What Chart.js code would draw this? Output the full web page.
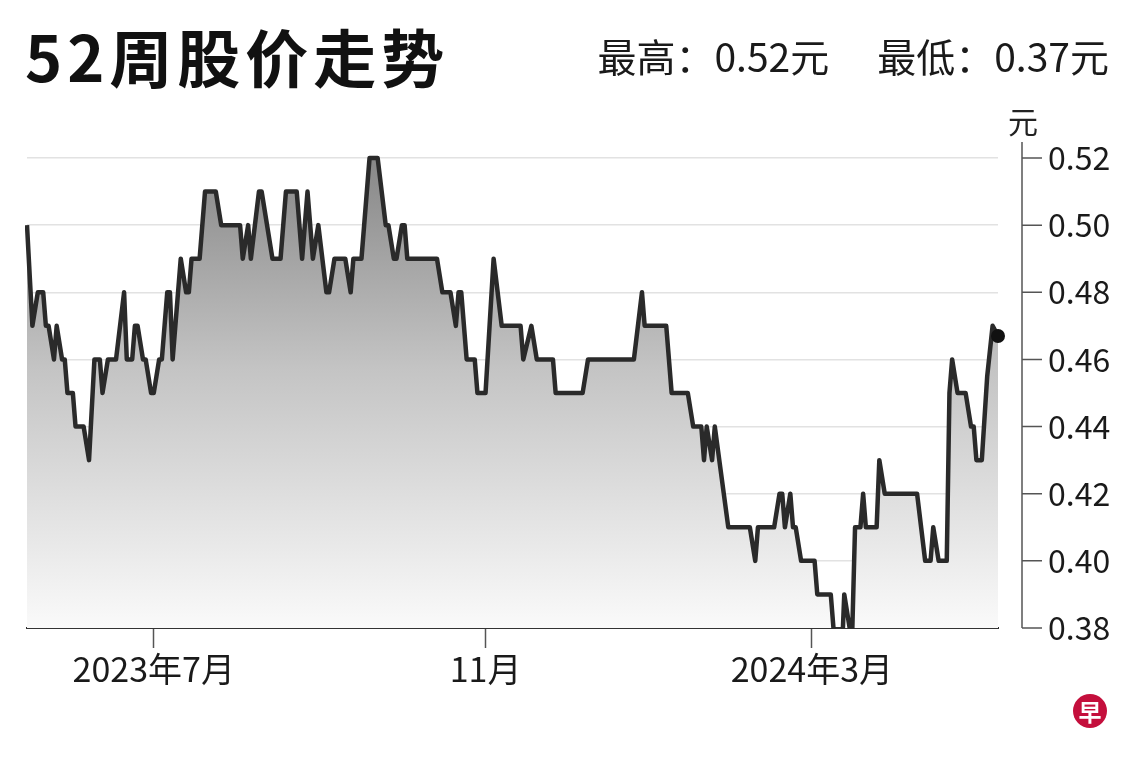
<!DOCTYPE html>
<html>
<head>
<meta charset="utf-8">
<script src="https://cdn.jsdelivr.net/npm/chart.js@4.4.1/dist/chart.umd.min.js"></script>
<style>
  html, body { margin: 0; padding: 0; background: #fff; }
  #wrap { position: relative; width: 1140px; height: 760px; font-family: "Noto Sans CJK SC", sans-serif; color: #111; }
  #title { position: absolute; left: 25px; top: 23px; font-size: 63px; font-weight: 700; line-height: 1; letter-spacing: 5px; }
  #sub { position: absolute; right: 31px; top: 36px; font-size: 39px; line-height: 1; color: #1a1a1a; }
  #sub span + span { margin-left: 48px; }
  #logo { position: absolute; left: 1073px; top: 694px; width: 34px; height: 34px; border-radius: 50%;
          background: #c40f3c; color: #fff; font-size: 23px; font-weight: 700; text-align: center; line-height: 34px; }
  canvas { position: absolute; left: 0; top: 0; }
</style>
</head>
<body>
<div id="wrap">
  <canvas id="priceChart" width="1140" height="760"></canvas>
  <div id="title">52周股价走势</div>
  <div id="sub"><span>最高：0.52元</span><span>最低：0.37元</span></div>
  <div id="logo">早</div>
</div>
<script>
// closing prices
const startDate = '2023-05-15';
const dates = [
  '2023-05-15', '2023-05-17', '2023-05-19', '2023-05-21', '2023-05-22', '2023-05-23', '2023-05-25', '2023-05-26',
  '2023-05-28', '2023-05-29', '2023-05-30', '2023-06-01', '2023-06-02', '2023-06-05', '2023-06-07', '2023-06-09',
  '2023-06-11', '2023-06-12', '2023-06-14', '2023-06-17', '2023-06-20', '2023-06-21', '2023-06-23', '2023-06-24',
  '2023-06-25', '2023-06-27', '2023-06-28', '2023-06-30', '2023-07-01', '2023-07-03', '2023-07-04', '2023-07-06',
  '2023-07-07', '2023-07-08', '2023-07-11', '2023-07-13', '2023-07-14', '2023-07-15', '2023-07-18', '2023-07-20',
  '2023-07-24', '2023-07-26', '2023-08-02', '2023-08-03', '2023-08-05', '2023-08-06', '2023-08-09', '2023-08-10',
  '2023-08-14', '2023-08-17', '2023-08-19', '2023-08-23', '2023-08-25', '2023-08-27', '2023-08-29', '2023-08-31',
  '2023-09-03', '2023-09-04', '2023-09-06', '2023-09-10', '2023-09-12', '2023-09-13', '2023-09-16', '2023-09-19',
  '2023-09-22', '2023-09-25', '2023-09-26', '2023-09-28', '2023-09-29', '2023-10-01', '2023-10-02', '2023-10-03',
  '2023-10-14', '2023-10-16', '2023-10-19', '2023-10-21', '2023-10-22', '2023-10-23', '2023-10-25', '2023-10-28',
  '2023-10-29', '2023-11-01', '2023-11-04', '2023-11-07', '2023-11-14', '2023-11-15', '2023-11-18', '2023-11-20',
  '2023-11-26', '2023-11-27', '2023-12-07', '2023-12-09', '2023-12-26', '2023-12-29', '2023-12-30', '2024-01-07',
  '2024-01-09', '2024-01-15', '2024-01-17', '2024-01-20', '2024-01-21', '2024-01-22', '2024-01-24', '2024-01-25',
  '2024-01-30', '2024-02-07', '2024-02-09', '2024-02-10', '2024-02-16', '2024-02-18', '2024-02-19', '2024-02-20',
  '2024-02-22', '2024-02-23', '2024-02-24', '2024-02-26', '2024-03-02', '2024-03-03', '2024-03-08', '2024-03-10',
  '2024-03-12', '2024-03-13', '2024-03-15', '2024-03-16', '2024-03-17', '2024-03-19', '2024-03-20', '2024-03-21',
  '2024-03-25', '2024-03-26', '2024-03-28', '2024-04-09', '2024-04-12', '2024-04-14', '2024-04-15', '2024-04-17',
  '2024-04-20', '2024-04-21', '2024-04-22', '2024-04-24', '2024-04-27', '2024-04-29', '2024-04-30', '2024-05-01',
  '2024-05-03', '2024-05-05', '2024-05-07', '2024-05-09'
];
const prices = [
  0.50, 0.47, 0.48, 0.48, 0.47, 0.47, 0.46, 0.47,
  0.46, 0.46, 0.45, 0.45, 0.44, 0.44, 0.43, 0.46,
  0.46, 0.45, 0.46, 0.46, 0.48, 0.46, 0.46, 0.47,
  0.47, 0.46, 0.46, 0.45, 0.45, 0.46, 0.46, 0.48,
  0.48, 0.46, 0.49, 0.48, 0.48, 0.49, 0.49, 0.51,
  0.51, 0.50, 0.50, 0.49, 0.50, 0.49, 0.51, 0.51,
  0.49, 0.49, 0.51, 0.51, 0.49, 0.51, 0.49, 0.50,
  0.48, 0.48, 0.49, 0.49, 0.48, 0.49, 0.49, 0.52,
  0.52, 0.50, 0.50, 0.49, 0.49, 0.50, 0.50, 0.49,
  0.49, 0.48, 0.48, 0.47, 0.48, 0.48, 0.46, 0.46,
  0.45, 0.45, 0.49, 0.47, 0.47, 0.46, 0.47, 0.46,
  0.46, 0.45, 0.45, 0.46, 0.46, 0.48, 0.47, 0.47,
  0.45, 0.45, 0.44, 0.44, 0.43, 0.44, 0.43, 0.44,
  0.41, 0.41, 0.40, 0.41, 0.41, 0.42, 0.42, 0.41,
  0.42, 0.41, 0.41, 0.40, 0.40, 0.39, 0.39, 0.37,
  0.37, 0.39, 0.38, 0.38, 0.41, 0.41, 0.42, 0.41,
  0.41, 0.43, 0.42, 0.42, 0.40, 0.40, 0.41, 0.40,
  0.40, 0.45, 0.46, 0.45, 0.45, 0.44, 0.44, 0.43,
  0.43, 0.455, 0.47, 0.467
];
const tickDates = ['2023-07-01', '2023-11-01', '2024-03-01'];
const tickLabels = ['2023年7月', '11月', '2024年3月'];
const yTicks = [0.38, 0.40, 0.42, 0.44, 0.46, 0.48, 0.50, 0.52];
const unitLabel = '元';

const dayNum = s => (Date.parse(s) - Date.parse(startDate)) / 86400000;
const tickDays = tickDates.map(dayNum);
const points = dates.map((d, i) => ({ x: dayNum(d), y: prices[i] }));
const lastIdx = points.length - 1;

const FONT = '"Noto Sans CJK SC", sans-serif';

// right axis line sits a little away from the plot, with short ticks and the unit on top
const rightAxis = {
  id: 'rightAxis',
  afterDraw(chart) {
    const { ctx, chartArea } = chart;
    const y = chart.scales.y;
    const ax = chartArea.right + 24;
    ctx.save();
    ctx.strokeStyle = '#555';
    ctx.lineWidth = 1.5;
    ctx.beginPath();
    ctx.moveTo(ax, chartArea.top - 16);
    ctx.lineTo(ax, chartArea.bottom);
    yTicks.forEach(v => {
      const py = y.getPixelForValue(v);
      ctx.moveTo(ax, py);
      ctx.lineTo(ax + 20, py);
    });
    ctx.stroke();
    ctx.fillStyle = '#222';
    ctx.font = '30px ' + FONT;
    ctx.textAlign = 'center';
    ctx.textBaseline = 'middle';
    ctx.fillText(unitLabel, ax + 1, chartArea.top - 36);
    ctx.restore();
  }
};

new Chart(document.getElementById('priceChart'), {
  type: 'line',
  data: {
    datasets: [{
      data: points,
      borderColor: '#2a2a2a',
      borderWidth: 4.5,
      borderJoinStyle: 'round',
      tension: 0,
      clip: { left: 2, top: 4, right: 12, bottom: 1 },
      fill: 'start',
      backgroundColor: (c) => {
        const area = c.chart.chartArea;
        if (!area) return 'rgba(0,0,0,0)';
        const g = c.chart.ctx.createLinearGradient(0, area.top, 0, area.bottom);
        g.addColorStop(0, '#878787');
        g.addColorStop(0.45, '#c4c4c4');
        g.addColorStop(1, '#fafafa');
        return g;
      },
      pointRadius: c => c.dataIndex === lastIdx ? 7 : 0,
      pointBackgroundColor: '#111',
      pointBorderWidth: 0,
      pointHoverRadius: 0
    }]
  },
  options: {
    responsive: false,
    animation: false,
    events: [],
    layout: { padding: { left: 27, top: 158, right: 0, bottom: 0 } },
    plugins: { legend: { display: false }, tooltip: { enabled: false } },
    scales: {
      x: {
        type: 'linear',
        min: 0,
        max: dayNum(dates[lastIdx]),
        afterBuildTicks: s => { s.ticks = tickDays.map(v => ({ value: v })); },
        afterFit: s => { s.height = 132; },
        ticks: {
          autoSkip: false,
          maxRotation: 0,
          padding: 1,
          color: '#1a1a1a',
          font: { family: FONT, size: 34 },
          callback: v => tickLabels[tickDays.indexOf(v)]
        },
        grid: { drawOnChartArea: false, drawTicks: true, tickLength: 20, tickColor: '#555', tickWidth: 1.5 },
        border: { display: true, color: '#333', width: 2 }
      },
      y: {
        position: 'right',
        min: 0.38,
        max: 0.52,
        afterBuildTicks: s => { s.ticks = yTicks.map(v => ({ value: v })); },
        afterFit: s => { s.width = 142; },
        ticks: {
          padding: 50,
          color: '#1a1a1a',
          font: { family: FONT, size: 32 },
          callback: v => v.toFixed(2)
        },
        grid: { color: '#e2e2e2', lineWidth: 1.5, drawTicks: false },
        border: { display: false }
      }
    }
  },
  plugins: [rightAxis]
});
</script>
</body>
</html>
